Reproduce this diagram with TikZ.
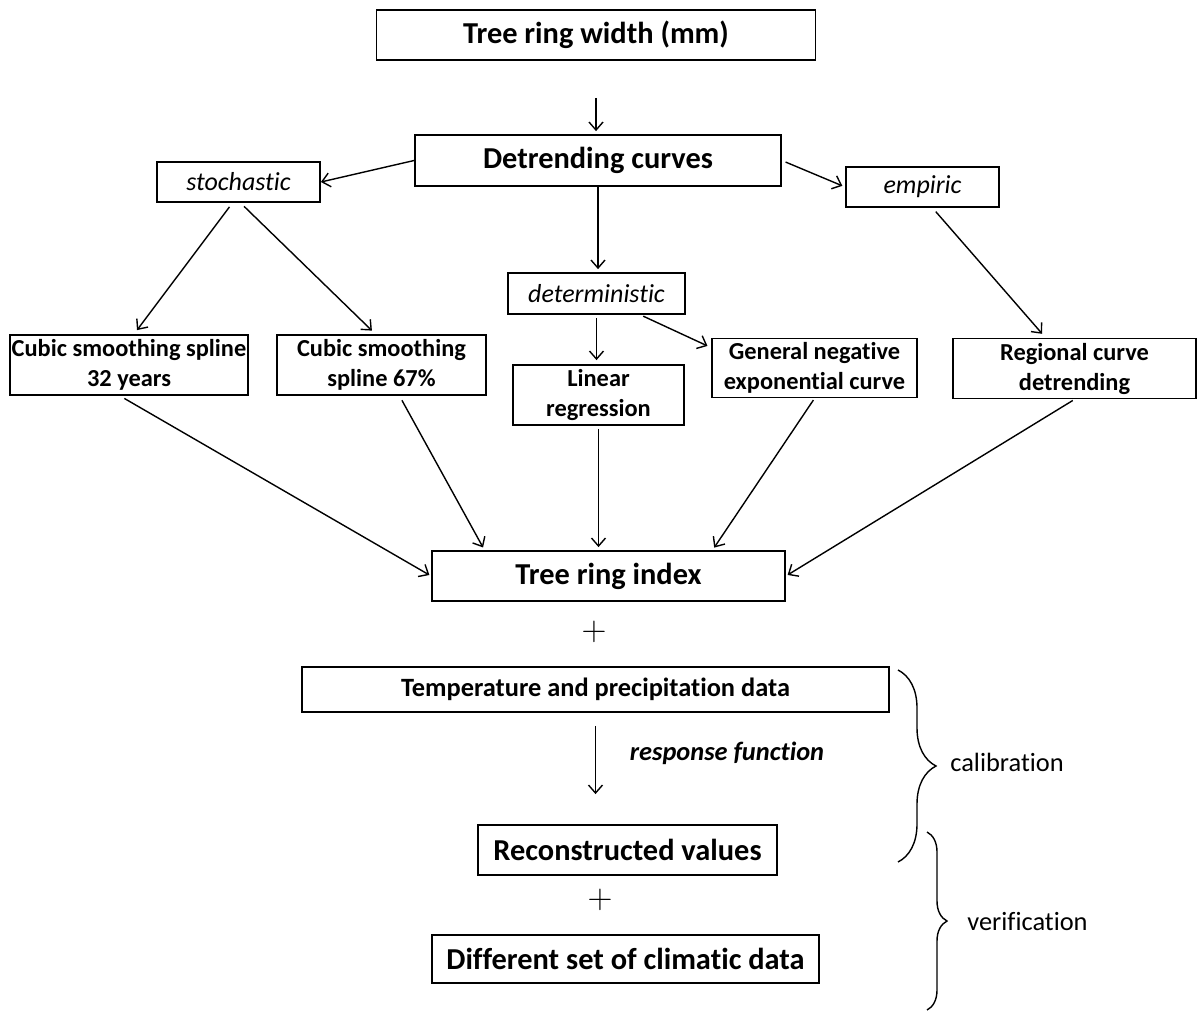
\documentclass[tikz,border=0pt]{standalone}
\usepackage[no-math]{fontspec}
\setmainfont{Carlito}[Ligatures=NoCommon]
\usetikzlibrary{arrows.meta,decorations.pathreplacing}

\begin{document}
\begin{tikzpicture}[x=0.5pt, y=-0.5pt, line width=0.7pt,
  >={Straight Barb[length=4pt,width=7pt]},
  every node/.style={font=\fontsize{13.2}{15}\selectfont},
  box/.style={draw, line width=0.9pt, align=center, inner sep=0pt, font=\fontsize{15.2}{18}\selectfont\bfseries},
  smallbox/.style={draw, line width=0.9pt, align=center, inner sep=0pt, font=\fontsize{12.2}{15}\selectfont\bfseries},
  typebox/.style={draw, line width=0.9pt, inner sep=0pt, font=\fontsize{13}{15}\selectfont\itshape},
  plussign/.style={font=\fontsize{19}{19}\selectfont}]
  \useasboundingbox (0,0) rectangle (1198,1012);
  \node[box, minimum width=219.5pt, minimum height=25pt] (ring) at (596,35) {Tree ring width (mm)};
  \node[box, minimum width=183pt, minimum height=25.5pt] (detr) at (598,160.5) {Detrending curves};
  \node[typebox, minimum width=81.5pt, minimum height=20pt] (stoch) at (238.5,182) {stochastic};
  \node[typebox, minimum width=76.5pt, minimum height=20pt] (emp) at (922.5,187) {empiric};
  \node[typebox, minimum width=88.5pt, minimum height=20.5pt] (determ) at (596.5,293.5) {deterministic};
  \node[smallbox, minimum width=119pt, minimum height=30pt] (css32) at (129,365) {Cubic smoothing spline\\32 years};
  \node[smallbox, minimum width=104.5pt, minimum height=30pt] (css67) at (381.5,365) {Cubic smoothing\\spline 67\%};
  \node[smallbox, minimum width=85.5pt, minimum height=30pt] (linreg) at (598.5,395) {Linear\\regression};
  \node[smallbox, minimum width=102.5pt, minimum height=29.5pt] (gnec) at (814.5,368) {General negative\\exponential curve};
  \node[smallbox, minimum width=121.5pt, minimum height=30pt] (rcd) at (1074.5,368.5) {Regional curve\\detrending};
  \node[box, minimum width=176.5pt, minimum height=25pt] (index) at (608.5,576) {Tree ring index};
  \node[plussign] (plusA) at (594,632) {$+$};
  \node[smallbox, minimum width=293.5pt, minimum height=22.5pt, font=\fontsize{13.2}{15}\selectfont\bfseries] (clim) at (595.5,689.5) {Temperature and precipitation data};
  \node[font=\fontsize{13.2}{15}\selectfont\bfseries\itshape] (resp) at (727,753) {response function};
  \node[box, minimum width=149.5pt, minimum height=25pt] (recon) at (627.5,850) {Reconstructed values};
  \node[plussign] (plusB) at (600,900) {$+$};
  \node[box, minimum width=193.5pt, minimum height=24pt] (diff) at (625.5,959) {Different set of climatic data};
  % detrending tree
  \draw[->, shorten <=18.5pt, shorten >=1.5pt] (ring.south) -- (ring.south |- detr.north);
  \draw[->] (detr.west) -- (stoch.east);
  \draw[->, shorten <=2pt, shorten >=1.5pt] (detr.east) -- (emp.west);
  \draw[->, shorten >=1.5pt] (detr.south) -- (detr.south |- determ.north);
  \draw[->, shorten <=2.5pt, shorten >=2.5pt] ([xshift=-3pt]stoch.south) -- ([xshift=2.5pt]css32.north);
  \draw[->, shorten <=2.5pt, shorten >=2.5pt] ([xshift=1pt]stoch.south) -- ([xshift=-3pt]css67.north);
  \draw[->, shorten <=2.5pt, shorten >=2.5pt] ([xshift=5pt]emp.south) -- ([xshift=-14.5pt]rcd.north);
  \draw[->, shorten <=1.5pt, shorten >=2pt] (determ.south) -- (determ.south |- linreg.north);
  \draw[->, shorten <=1.5pt, shorten >=2pt] ([xshift=22pt]determ.south) -- ([yshift=-5pt]gnec.north west);
  % into the index
  \draw[->, shorten <=2.5pt, shorten >=1pt] ([xshift=-4.5pt]css32.south) -- (index.west);
  \draw[->, shorten <=2.5pt, shorten >=1.5pt] ([xshift=9pt]css67.south) -- ([xshift=-62pt]index.north);
  \draw[->, shorten <=1.5pt, shorten >=1.5pt] (linreg.south) -- (linreg.south |- index.north);
  \draw[->, shorten <=1pt, shorten >=1.5pt] (gnec.south) -- ([xshift=52pt]index.north);
  \draw[->, shorten <=1pt, shorten >=1pt] (rcd.south) -- (index.east);
  \draw[->, shorten <=6.5pt, shorten >=15pt] (clim.south) -- (clim.south |- recon.north);
  % braces
  \draw[decorate, decoration={brace, amplitude=19pt}] (898,670) -- (898,862);
  \node[anchor=west] (calib) at (943,762) {calibration};
  \draw[decorate, decoration={brace, amplitude=10pt}] (927,832) -- (927,1010);
  \node[anchor=west] (verif) at (960,922) {verification};
\end{tikzpicture}
\end{document}
